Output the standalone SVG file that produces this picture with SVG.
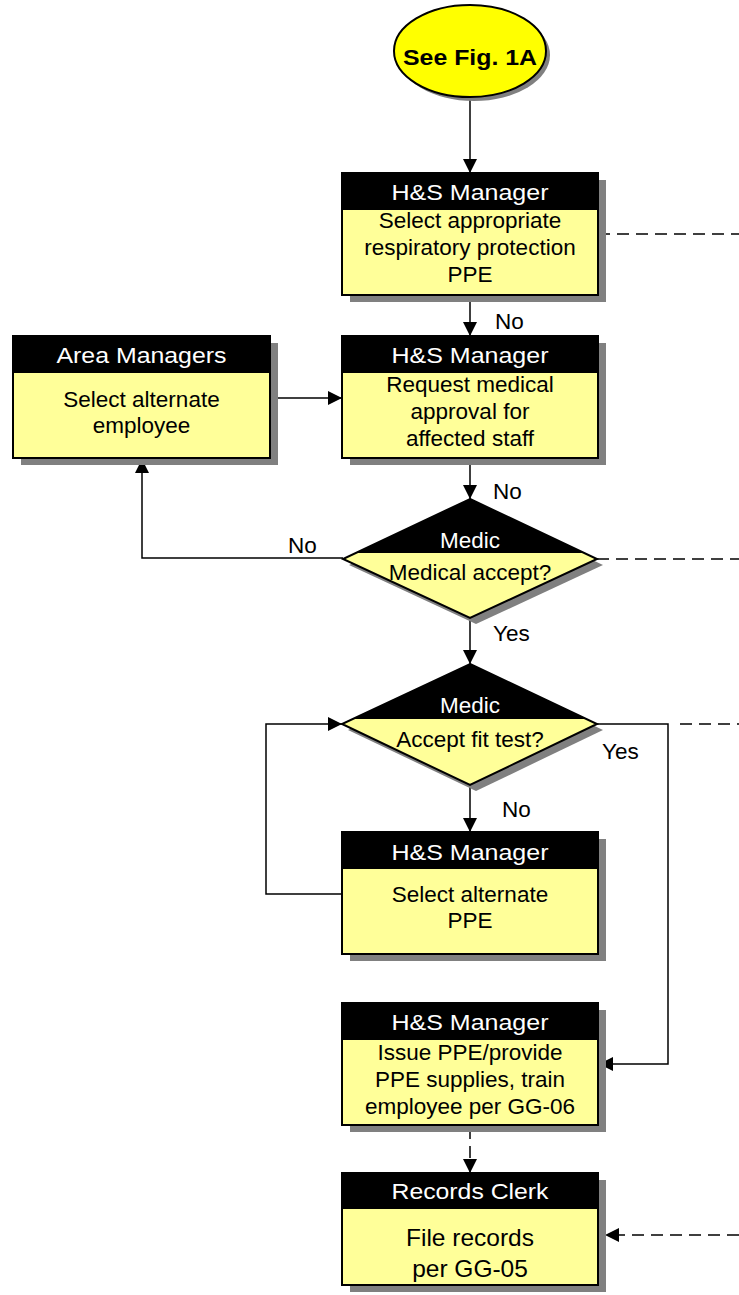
<svg xmlns="http://www.w3.org/2000/svg" width="739" height="1295" viewBox="0 0 739 1295">
  <style>
    .shadow { fill: #808080; }
    .body { fill: #FFFF99; stroke: #000; stroke-width: 2; }
    .head { fill: #000; }
    .htxt { font-family: "Liberation Sans", Arial, sans-serif; font-size: 22.5px; fill: #fff; text-anchor: middle; }
    .btxt { font-family: "Liberation Sans", Arial, sans-serif; font-size: 22.5px; fill: #000; text-anchor: middle; }
    .big { font-size: 24.5px; }
    .lbl { font-family: "Liberation Sans", Arial, sans-serif; font-size: 22.5px; fill: #000; }
    .ln { fill: none; stroke: #000; stroke-width: 1.5; }
    .dash { fill: none; stroke: #000; stroke-width: 1.5; stroke-dasharray: 12 7; }
  </style>
  <defs>
    <marker id="arr" markerUnits="userSpaceOnUse" markerWidth="15" markerHeight="15" refX="14" refY="7" orient="auto">
      <path d="M0,0 L14,7 L0,14 Z" fill="#000"/>
    </marker>
  </defs>

  <!-- connectors -->
  <g id="connectors">
    <line class="ln" x1="470" y1="97" x2="470" y2="173" marker-end="url(#arr)"/>
    <line class="ln" x1="470" y1="295" x2="470" y2="336" marker-end="url(#arr)"/>
    <line class="dash" x1="598" y1="234" x2="739" y2="234"/>
    <line class="ln" x1="270" y1="398" x2="342" y2="398" marker-end="url(#arr)"/>
    <line class="ln" x1="470" y1="458" x2="470" y2="499" marker-end="url(#arr)"/>
    <polyline class="ln" points="343,558 142,558 142,459" marker-end="url(#arr)"/>
    <line class="dash" x1="597" y1="559" x2="739" y2="559"/>
    <line class="ln" x1="470" y1="618" x2="470" y2="664" marker-end="url(#arr)"/>
    <polyline class="ln" points="597,724 668,724 668,1064 599,1064" marker-end="url(#arr)"/>
    <line class="dash" x1="680" y1="724" x2="739" y2="724"/>
    <line class="ln" x1="470" y1="785" x2="470" y2="832" marker-end="url(#arr)"/>
    <polyline class="ln" points="342,894 266,894 266,724 342,724" marker-end="url(#arr)"/>
    <line class="dash" x1="470" y1="1127" x2="470" y2="1173" marker-end="url(#arr)"/>
    <line class="dash" x1="739" y1="1235" x2="605" y2="1235" marker-end="url(#arr)"/>
    <text class="lbl" x="495" y="329">No</text>
    <text class="lbl" x="493" y="499">No</text>
    <text class="lbl" x="288" y="553">No</text>
    <text class="lbl" x="493" y="641">Yes</text>
    <text class="lbl" x="602" y="759">Yes</text>
    <text class="lbl" x="502" y="817">No</text>
  </g>

  <!-- start terminator -->
  <g id="start">
    <ellipse cx="474" cy="55" rx="76" ry="46" class="shadow"/>
    <ellipse cx="470" cy="51" rx="76" ry="46" fill="#FFFF00" stroke="#000" stroke-width="2"/>
    <text x="470" y="65" font-family="Liberation Sans, Arial, sans-serif" font-size="22.5" font-weight="bold" text-anchor="middle" textLength="134" lengthAdjust="spacingAndGlyphs">See Fig. 1A</text>
  </g>

  <!-- select respiratory protection -->
  <g id="select-ppe">
    <rect x="350" y="180" width="256" height="122" class="shadow"/>
    <rect x="342" y="173" width="256" height="122" class="body"/>
    <rect x="342" y="173" width="256" height="37" class="head"/>
    <text class="htxt" x="470" y="200" textLength="157" lengthAdjust="spacingAndGlyphs">H&amp;S Manager</text>
    <text class="btxt" x="470" y="228">Select appropriate</text>
    <text class="btxt" x="470" y="255">respiratory protection</text>
    <text class="btxt" x="470" y="282">PPE</text>
  </g>

  <!-- select alternate employee -->
  <g id="alt-employee">
    <rect x="21" y="343" width="257" height="122" class="shadow"/>
    <rect x="13" y="336" width="257" height="122" class="body"/>
    <rect x="13" y="336" width="257" height="37" class="head"/>
    <text class="htxt" x="141.5" y="363" textLength="170" lengthAdjust="spacingAndGlyphs">Area Managers</text>
    <text class="btxt" x="141.5" y="407">Select alternate</text>
    <text class="btxt" x="141.5" y="433">employee</text>
  </g>

  <!-- request medical approval -->
  <g id="request-approval">
    <rect x="350" y="343" width="256" height="122" class="shadow"/>
    <rect x="342" y="336" width="256" height="122" class="body"/>
    <rect x="342" y="336" width="256" height="37" class="head"/>
    <text class="htxt" x="470" y="363" textLength="157" lengthAdjust="spacingAndGlyphs">H&amp;S Manager</text>
    <text class="btxt" x="470" y="392">Request medical</text>
    <text class="btxt" x="470" y="419">approval for</text>
    <text class="btxt" x="470" y="446">affected staff</text>
  </g>

  <!-- medical acceptance decision -->
  <g id="medical-accept">
    <polygon points="476,505 603,565 476,624 349,565" class="shadow"/>
    <polygon points="470,499 597,559 470,618 343,559" class="body"/>
    <polygon points="470,499 584.3,553 355.7,553" class="head"/>
    <text class="htxt" x="470" y="548">Medic</text>
    <text class="btxt" x="470" y="580">Medical accept?</text>
  </g>

  <!-- fit test decision -->
  <g id="fit-test">
    <polygon points="476,670 603,730 476,791 348,730" class="shadow"/>
    <polygon points="470,664 597,724 470,785 342,724" class="body"/>
    <polygon points="470,664 587,719 353,719" class="head"/>
    <text class="htxt" x="470" y="713">Medic</text>
    <text class="btxt" x="470" y="747">Accept fit test?</text>
  </g>

  <!-- select alternate PPE -->
  <g id="alt-ppe">
    <rect x="350" y="839" width="256" height="122" class="shadow"/>
    <rect x="342" y="832" width="256" height="122" class="body"/>
    <rect x="342" y="832" width="256" height="37" class="head"/>
    <text class="htxt" x="470" y="860" textLength="157" lengthAdjust="spacingAndGlyphs">H&amp;S Manager</text>
    <text class="btxt" x="470" y="902">Select alternate</text>
    <text class="btxt" x="470" y="928">PPE</text>
  </g>

  <!-- issue PPE and train -->
  <g id="issue-ppe">
    <rect x="350" y="1010" width="256" height="122" class="shadow"/>
    <rect x="342" y="1003" width="256" height="122" class="body"/>
    <rect x="342" y="1003" width="256" height="37" class="head"/>
    <text class="htxt" x="470" y="1030" textLength="157" lengthAdjust="spacingAndGlyphs">H&amp;S Manager</text>
    <text class="btxt" x="470" y="1060">Issue PPE/provide</text>
    <text class="btxt" x="470" y="1087">PPE supplies, train</text>
    <text class="btxt" x="470" y="1114">employee per GG-06</text>
  </g>

  <!-- file records -->
  <g id="file-records">
    <rect x="350" y="1180" width="256" height="112" class="shadow"/>
    <rect x="342" y="1173" width="256" height="112" class="body"/>
    <rect x="342" y="1173" width="256" height="36" class="head"/>
    <text class="htxt" x="470" y="1199" textLength="157" lengthAdjust="spacingAndGlyphs">Records Clerk</text>
    <text class="btxt big" x="470" y="1246">File records</text>
    <text class="btxt big" x="470" y="1277">per GG-05</text>
  </g>
</svg>
